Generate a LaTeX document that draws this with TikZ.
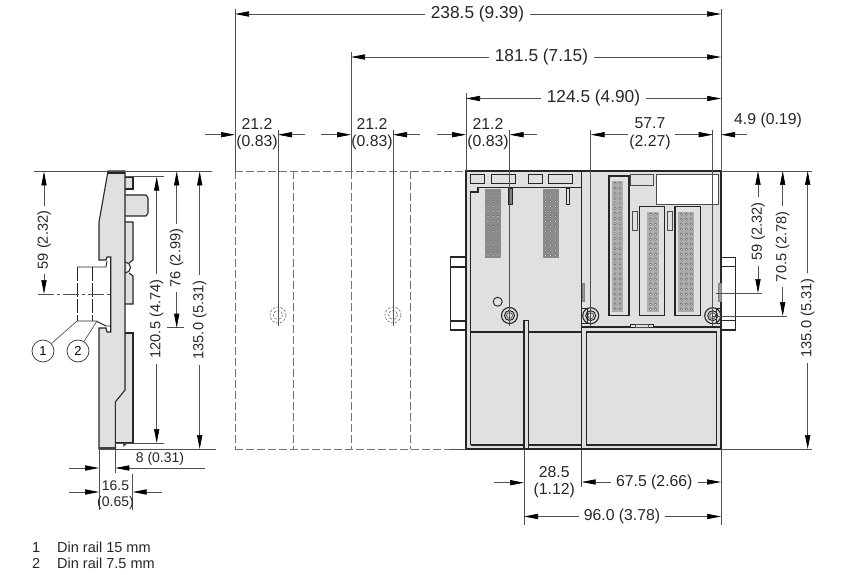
\documentclass[tikz,border=0pt]{standalone}
\usepackage{fontspec}
\setmainfont{Liberation Sans}
\usetikzlibrary{arrows.meta}
\definecolor{bodygrey}{HTML}{E0E0E0}
\definecolor{dimgrey}{HTML}{505050}
\tikzset{
  dim/.style={draw=dimgrey, line width=0.7pt, -{Triangle[length=14pt,width=5.2pt,black]}},
  ext/.style={draw=dimgrey, line width=0.7pt},
  dimtext/.style={inner sep=1.5pt, font=\fontsize{15.8}{17.7}\selectfont, text=black!85, align=center},
  topdimtext/.style={dimtext, inner sep=6pt, font=\fontsize{17.3}{19}\selectfont},
  smalldimtext/.style={dimtext, font=\fontsize{14}{16}\selectfont},
  vdimtext/.style={dimtext, rotate=90, inner sep=5pt, font=\fontsize{14.6}{16}\selectfont},
  outline/.style={draw=black!85, line width=1.1pt},
  thin outline/.style={draw=black!70, line width=0.7pt},
  ghost/.style={draw=black!55, line width=0.9pt, dash pattern=on 8pt off 3pt},
  callout/.style={draw=black!80, line width=0.7pt, circle, minimum size=22pt, inner sep=0pt, font=\fontsize{13}{15}\selectfont},
  keytext/.style={anchor=base west, inner sep=0pt, font=\fontsize{14.5}{16}\selectfont, text=black!85},
}
% pin block: x0, y0, columns, rows, x step, y step
\newcommand{\pinblock}[6]{
  \foreach \c in {1,...,#3}
    \foreach \r in {1,...,#4}
      \draw [fill=white, draw=black!60, line width=0.45pt] ({#1+(\c-0.5)*#5},{#2+(\r-0.5)*#6}) circle (1.2);
}
\newcommand{\screw}[2]{
  \draw [outline, fill=bodygrey] (#1,#2) circle (8);
  \draw [outline, fill=bodygrey, line width=1pt] (#1,#2) circle (5);
  \draw [thin outline, fill=bodygrey] (#1,#2) circle (3);
}
\begin{document}
\begin{tikzpicture}[x=1pt,y=-1pt]
    \useasboundingbox (0,0) rectangle (847,575);

    % side view
    \fill [bodygrey] (108,172) -- (99,222) -- (99,260) -- (106,260) -- (107,257) -- (110.7,257) -- (110.7,332) -- (107,332) -- (106,328) -- (99,328) -- (99,449) -- (115.3,449) -- (115.3,443) -- (133,443) -- (133,333) -- (125,333) -- (125,304) -- (133,304) -- (133,276) -- (127,273) -- (127,263) -- (133,260) -- (133,222) -- (125,222) -- (125,216) -- (148,216) -- (148,195) -- (125,195) -- (125,189) -- (133,189) -- (133,177) -- (125,177) -- (125,171) -- cycle;
    \draw [outline] (125,171) -- (108,171) -- (99,222) -- (99,260) -- (106,260) -- (107,257) -- (110.7,257) -- (110.7,332) -- (107,332) -- (106,328) -- (99,328) -- (99,449) -- (115.3,449);
    \draw [outline] (108,173) -- (125,173);
    \draw [outline] (125,171) -- (125,390) -- (115.3,402) -- (115.3,449);
    \draw [outline] (125,177) -- (133,177) -- (133,189) -- (125,189);
    \draw [outline] (125,195) -- (146,195) -- (148,198) -- (148,213) -- (146,216) -- (125,216);
    \draw [outline] (125,222) -- (133,222) -- (133,260) -- (129,263) (129,273) -- (133,276) -- (133,304) -- (125,304);
    \draw [outline] (125,262) arc (-90:90:5.5);
    \draw [outline] (125,333) -- (133,333) -- (133,443) -- (115.3,443);
    \fill [black!70] (123,443) -- (128,443) -- (123.5,447) -- cycle;
    \fill [black!75] (99,447) rectangle (115.3,449.5);

    % din rails
    \draw [outline, line width=0.9pt] (77,267) -- (106,267) -- (107,261);
    \draw [outline, line width=0.9pt] (77,321) -- (96,321) -- (106,326) -- (110,326);
    \draw [outline, line width=0.9pt, dash pattern=on 14pt off 2pt on 14pt off 2pt] (77,267) -- (77,321);
    \draw [outline, line width=0.9pt, dash pattern=on 14pt off 2pt on 14pt off 2pt] (92.7,267) -- (92.7,321);
    \draw [ext, dash pattern=on 16pt off 3pt on 3pt off 3pt] (38,294) -- (110,294);

    \node [callout] (rail1) at (43,351) {1};
    \node [callout] (rail2) at (78,351) {2};
    \coordinate (rail1end) at (77,321);
    \coordinate (rail2end) at (97,321);
    \draw [ext] (rail1) -- (rail1end);
    \draw [ext] (rail2) -- (rail2end);

    % side view dimensions
    \draw [ext] (34,171.5) -- (212,171.5);
    \draw [ext] (125,176.7) -- (164,176.7);
    \draw [ext] (167,327.7) -- (184,327.7);
    \draw [ext] (115,443) -- (164,443);
    \draw [ext] (99,449) -- (216,449);
    \draw [ext] (99,449) -- (99,510);
    \draw [ext] (115.3,449) -- (115.3,473);
    \draw [ext] (132.7,474) -- (132.7,510);

    \node [vdimtext] (sideA) at (44,240) {59 (2.32)};
    \draw [dim] (sideA) -- (44,171.5);
    \draw [dim] (sideA) -- (44,294);
    \node [vdimtext] (sideB) at (176.7,258) {76 (2.99)};
    \draw [dim] (sideB) -- (176.7,171.5);
    \draw [dim] (sideB) -- (176.7,327.7);
    \node [vdimtext] (sideC) at (156.7,319) {120.5 (4.74)};
    \draw [dim] (sideC) -- (156.7,176.7);
    \draw [dim] (sideC) -- (156.7,443);
    \node [vdimtext] (sideD) at (199.7,320) {135.0 (5.31)};
    \draw [dim] (sideD) -- (199.7,171.5);
    \draw [dim] (sideD) -- (199.7,449);

    \node [smalldimtext] (sideE) at (160,459) {8 (0.31)};
    \draw [dim] (69,468) -- (99,468);
    \draw [dim] (205,468) -- (115.3,468);
    \node [smalldimtext] (sideF) at (115.5,495) {16.5\\(0.65)};
    \draw [dim] (69,492) -- (99,492);
    \draw [dim] (162,492) -- (132.7,492);

    % empty slots
    \draw [ghost] (235,171) -- (466,171);
    \draw [ghost] (235,449) -- (466,449);
    \foreach \x in {235,293,351,410}
        \draw [ghost] (\x,171) -- (\x,449);
    \foreach \x in {278,393} {
        \draw [ghost, dash pattern=on 2.5pt off 1.5pt, line width=0.6pt] (\x,315) circle (8);
        \draw [ghost, dash pattern=on 2.5pt off 1.5pt, line width=0.6pt] (\x,315) circle (4.5);
    }

    % left module
    \draw [outline, fill=white] (450.7,257) rectangle (466,330);
    \draw [outline] (450.7,267) -- (466,267);
    \draw [outline] (450.7,321) -- (466,321);
    \draw [outline, fill=bodygrey] (466,171) rectangle (581.7,449);
    \draw [outline] (470.7,445) -- (470.7,192) -- (478,192) -- (478,187.5) -- (581.7,187.5);
    \draw [outline] (470.7,332) -- (581.7,332);
    \draw [outline] (470.7,445) -- (581.7,445);
    \foreach \x/\w in {470/14,491/24,528/14,548/24}
        \draw [outline, line width=1pt] (\x,175) rectangle ++(\w,9);
    \foreach \x in {485,542.7} {
        \fill [black!45] (\x,189) rectangle ++(16,69);
        \pinblock{\x+0.5}{189.5}{3}{14}{5}{4.9}
    }
    \draw [outline, line width=0.8pt, fill=black!50] (508,188) rectangle (512,204);
    \draw [outline, line width=0.8pt, fill=bodygrey] (566,188) rectangle (569.5,204);
    \draw [outline, line width=0.9pt] (497.7,301.7) circle (4.5);
    \screw{509.5}{315.5}
    \draw [outline, fill=bodygrey] (524,320.7) rectangle (528.7,449);

    % right module
    \draw [outline, fill=white] (721,257.3) rectangle (735.7,330);
    \draw [outline] (721,266.7) -- (735.7,266.7);
    \draw [outline] (721,320.7) -- (735.7,320.7);
    \draw [outline, fill=bodygrey] (581.7,171) rectangle (721,449);
    \draw [outline] (581.7,327) -- (721,327);
    \draw [outline] (586.7,332) rectangle (716.7,445);
    \draw [thin outline, fill=bodygrey] (630,174.3) rectangle (653,185);
    \draw [thin outline, fill=white] (656.7,174.3) rectangle (718.3,204.3);
    \foreach \x/\y/\w/\h in {609/176/20/139.7,639.3/206.7/25/109,675/206.7/25.7/109}
        \draw [outline, fill=bodygrey] (\x,\y) rectangle ++(\w,\h);
    \fill [black!32] (612.3,180.7) rectangle (622.7,311.7);
    \fill [black!32] (647.3,211.7) rectangle (659,311.7);
    \fill [black!32] (678.3,211.7) rectangle (694.3,311.7);
    \pinblock{612.5}{180.7}{2}{26}{5}{5.04}
    \pinblock{648}{211.7}{2}{20}{5}{5}
    \pinblock{678.8}{211.7}{3}{20}{5}{5}
    \draw [thin outline, fill=bodygrey] (632.3,211.7) rectangle (637,230.7);
    \draw [thin outline, fill=bodygrey] (667.3,211.7) rectangle (672,230.7);
    \draw [thin outline, fill=black!40, draw=black!50] (582.3,283) rectangle (584.7,301.7);
    \draw [thin outline, fill=black!40, draw=black!50] (718.3,283) rectangle (721,301.7);
    \draw [outline, line width=0.9pt, fill=bodygrey] (630,327) -- (630,324) -- (653,324) -- (653,327);
    \draw [thin outline] (635,324) rectangle (648,327);
    \screw{590.7}{315.7}
    \screw{712.7}{315.7}
    \draw [outline, line width=1pt] (581.7,308) -- (587,308) -- (587,323) -- (581.7,323);
    \draw [outline, line width=1pt] (721,308) -- (716,308) -- (716,323) -- (721,323);

    % top dimensions
    \draw [ext] (235,9) -- (235,171);
    \draw [ext] (351,52) -- (351,171);
    \draw [ext] (466,93) -- (466,171);
    \draw [ext] (721,9) -- (721,171);
    \foreach \x in {278,393,509.5}
        \draw [ext] (\x,130) -- (\x,326);
    \foreach \x in {590.7,712.7}
        \draw [ext] (\x,130) -- (\x,326);

    \node [topdimtext] (topA) at (477.5,14) {238.5 (9.39)};
    \draw [dim] (topA) -- (235,14);
    \draw [dim] (topA) -- (721,14);
    \node [topdimtext] (topB) at (541.5,57) {181.5 (7.15)};
    \draw [dim] (topB) -- (351,57);
    \draw [dim] (topB) -- (721,57);
    \node [topdimtext] (topC) at (593.5,98.5) {124.5 (4.90)};
    \draw [dim] (topC) -- (466,98.5);
    \draw [dim] (topC) -- (721,98.5);

    \node [dimtext] (slotA) at (257,134) {21.2\\(0.83)};
    \node [dimtext] (slotB) at (372,134) {21.2\\(0.83)};
    \node [dimtext] (slotC) at (488,134) {21.2\\(0.83)};
    \draw [dim] (205,134.7) -- (235,134.7);
    \draw [dim] (305,134.7) -- (278,134.7);
    \draw [dim] (321,134.7) -- (351,134.7);
    \draw [dim] (420,134.7) -- (393,134.7);
    \draw [dim] (437,134.7) -- (466,134.7);
    \draw [dim] (537,134.7) -- (509.5,134.7);
    \node [dimtext] (pitch) at (650,134) {57.7\\(2.27)};
    \draw [dim] (628,134.7) -- (590.7,134.7);
    \draw [dim] (675,134.7) -- (712.7,134.7);
    \node [dimtext] (gap) at (768,120.7) {4.9 (0.19)};
    \draw [dim] (747,134.7) -- (721,134.7);

    % right dimensions
    \draw [ext] (721,171) -- (812,171);
    \draw [ext] (716,293) -- (761.7,293);
    \draw [ext] (712.7,316) -- (786.7,316);
    \draw [ext] (721,449) -- (811.7,449);
    \node [vdimtext] (rightA) at (758,231.7) {59 (2.32)};
    \draw [dim] (rightA) -- (758,171);
    \draw [dim] (rightA) -- (758,293);
    \node [vdimtext] (rightB) at (782.7,246.7) {70.5 (2.78)};
    \draw [dim] (rightB) -- (782.7,171);
    \draw [dim] (rightB) -- (782.7,316);
    \node [vdimtext] (rightC) at (807.7,318) {135.0 (5.31)};
    \draw [dim] (rightC) -- (807.7,171);
    \draw [dim] (rightC) -- (807.7,449);

    % bottom dimensions
    \draw [ext] (524,449) -- (524,525);
    \draw [ext] (581.7,449) -- (581.7,487);
    \draw [ext] (721,449) -- (721,525);
    \draw [ext] (466,449) -- (450,449);
    \node [dimtext] (botA) at (554.3,482) {28.5\\(1.12)};
    \draw [dim] (494,482.7) -- (524,482.7);
    \node [dimtext, inner sep=5pt] (botB) at (654.3,482) {67.5 (2.66)};
    \draw [dim] (botB) -- (581.7,482);
    \draw [dim] (botB) -- (721,482);
    \node [dimtext, inner sep=5pt] (botC) at (622,516.5) {96.0 (3.78)};
    \draw [dim] (botC) -- (524,516.5);
    \draw [dim] (botC) -- (721,516.5);

    % legend
    \node [keytext] (keyA) at (32,552) {1};
    \node [keytext] (keyAtext) at (57,552) {Din rail 15 mm};
    \node [keytext] (keyB) at (32,568) {2};
    \node [keytext] (keyBtext) at (57,568) {Din rail 7.5 mm};
\end{tikzpicture}
\end{document}
